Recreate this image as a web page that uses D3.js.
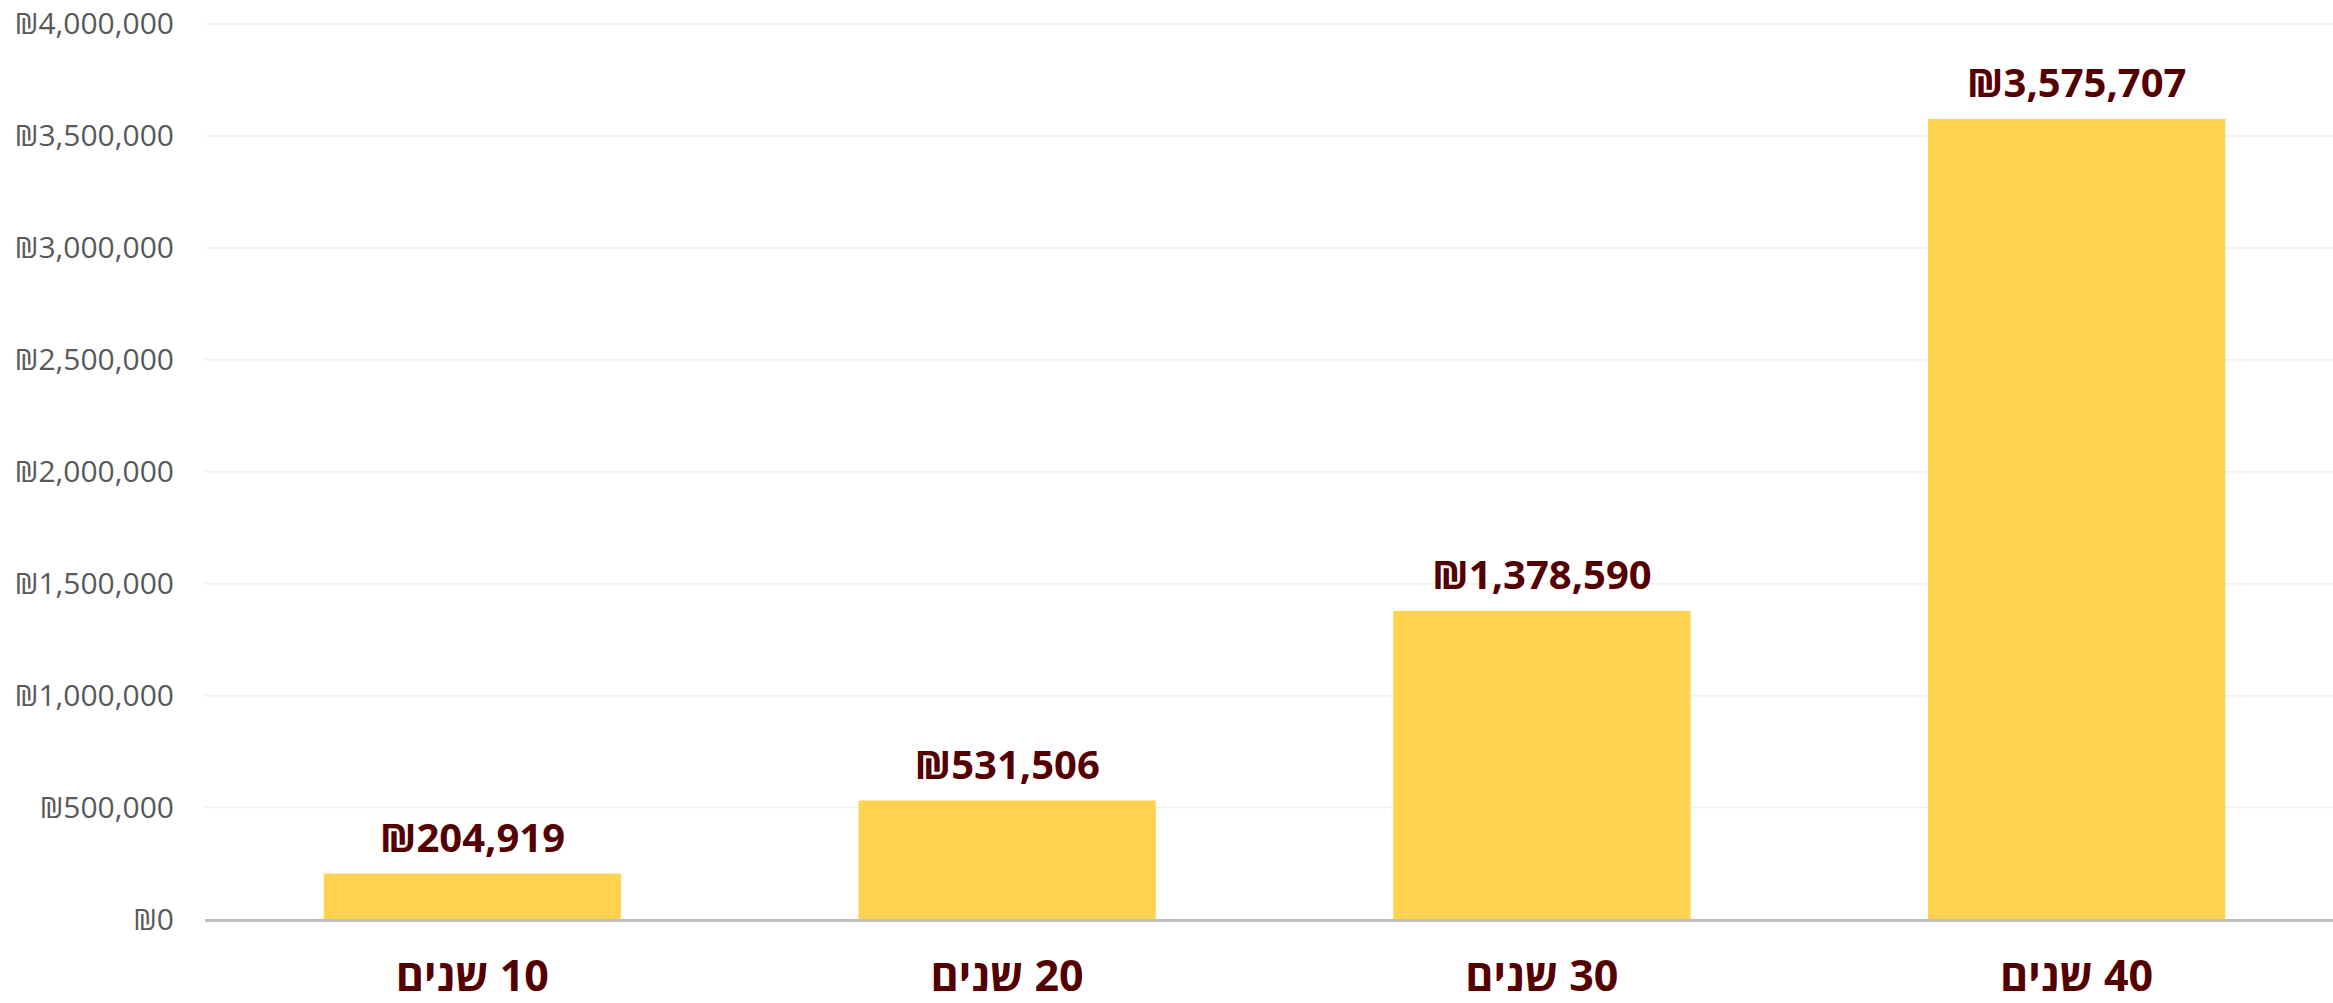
<!DOCTYPE html>
<html>
<head>
<meta charset="utf-8">
<script src="https://cdn.jsdelivr.net/npm/d3@7"></script>
<style>
  html, body { margin: 0; padding: 0; background: #ffffff; }
  svg { display: block; }
</style>
</head>
<body>
<svg id="chart" width="2333" height="1003"></svg>
<script>
const categories = ["10 שנים", "20 שנים", "30 שנים", "40 שנים"];
const values = [204919, 531506, 1378590, 3575707];
const yTicks = [0, 500000, 1000000, 1500000, 2000000, 2500000, 3000000, 3500000, 4000000];

const W = 2333, H = 1003;
const plotLeft = 205, plotRight = 2344, plotTop = 24, plotBottom = 919.5;

const svg = d3.select("#chart");
const fmt = v => "₪" + d3.format(",")(v);

const x = d3.scaleBand().domain(categories).range([plotLeft, plotRight]).paddingInner(0.444).paddingOuter(0.222);
const y = d3.scaleLinear().domain([0, 4000000]).range([plotBottom, plotTop]);

// gridlines
svg.append("g").selectAll("line").data(yTicks.filter(d => d > 0)).join("line")
  .attr("x1", plotLeft).attr("x2", W)
  .attr("y1", d => y(d)).attr("y2", d => y(d))
  .attr("stroke", "#efefef").attr("stroke-width", 1.5);

// y axis labels
const yAxis = d3.axisLeft(y).tickValues(yTicks).tickSize(0).tickPadding(0).tickFormat(fmt);
const gy = svg.append("g").attr("transform", `translate(174,0)`).call(yAxis);
gy.select(".domain").remove();
gy.selectAll("text")
  .attr("fill", "#595959")
  .style("font-family", "'Open Sans', 'Noto Sans', sans-serif")
  .style("font-size", "30px");

// bars
svg.append("g").selectAll("rect").data(values).join("rect")
  .attr("x", (d, i) => x(categories[i]))
  .attr("width", x.bandwidth())
  .attr("y", d => y(d))
  .attr("height", d => y(0) - y(d))
  .attr("fill", "#FFD34F");

// baseline
svg.append("line")
  .attr("x1", plotLeft).attr("x2", W)
  .attr("y1", y(0) + 1).attr("y2", y(0) + 1)
  .attr("stroke", "#bfbfbf").attr("stroke-width", 3);

// value labels
svg.append("g").selectAll("text").data(values).join("text")
  .attr("x", (d, i) => x(categories[i]) + x.bandwidth() / 2)
  .attr("y", d => y(d) - 22)
  .attr("text-anchor", "middle")
  .attr("fill", "#550000")
  .style("font-family", "'Open Sans', 'Noto Sans', sans-serif")
  .style("font-weight", "700")
  .style("font-size", "40px")
  .text(d => fmt(d));

// x axis category labels
const xAxis = d3.axisBottom(x).tickSize(0).tickPadding(0);
const gx = svg.append("g").attr("transform", `translate(0,${plotBottom})`).call(xAxis);
gx.select(".domain").remove();
gx.selectAll("text")
  .attr("y", 71)
  .attr("dy", null)
  .attr("direction", "rtl")
  .attr("text-anchor", "middle")
  .attr("fill", "#550000")
  .style("font-family", "'Open Sans', 'Noto Sans', sans-serif")
  .style("font-weight", "700")
  .style("font-size", "43px");
</script>
</body>
</html>
